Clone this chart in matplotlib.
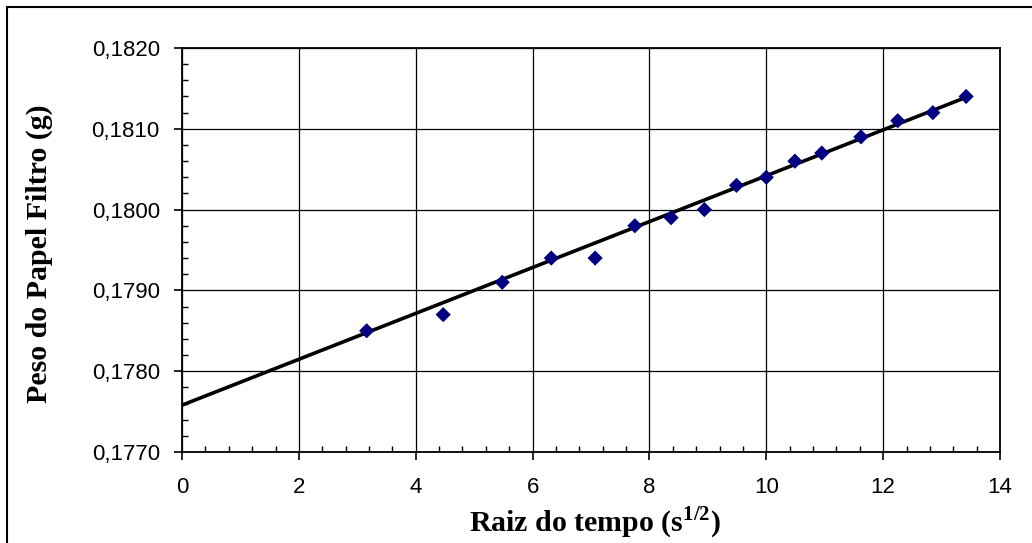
import matplotlib
matplotlib.use("Agg")
import matplotlib.pyplot as plt
from matplotlib.ticker import MultipleLocator, FuncFormatter
from matplotlib.patches import Rectangle

# raiz do tempo (s^1/2) and peso do papel filtro (g)
raiz_tempo = [3.16, 4.47, 5.48, 6.32, 7.07, 7.75, 8.37, 8.94, 9.49, 10.00,
              10.49, 10.95, 11.62, 12.25, 12.85, 13.42]
peso = [0.1785, 0.1787, 0.1791, 0.1794, 0.1794, 0.1798, 0.1799, 0.1800, 0.1803,
        0.1804, 0.1806, 0.1807, 0.1809, 0.1811, 0.1812, 0.1814]

# linear trendline end points
trend_x = [0.0, 13.42]
trend_y = [0.17758, 0.18139]

plt.rcParams["mathtext.fontset"] = "custom"
plt.rcParams["mathtext.bf"] = "Liberation Serif:bold"
plt.rcParams["mathtext.rm"] = "Liberation Serif:bold"

fig = plt.figure(figsize=(10.32, 5.43), dpi=100)
ax = fig.add_axes([0.1764, 0.1676, 0.7926, 0.744])

ax.plot(trend_x, trend_y, color="black", lw=2.6, zorder=3)
ax.scatter(raiz_tempo, peso, marker="D", s=60, color="#000080", zorder=4,
           edgecolors="none")

ax.set_xlim(0, 14)
ax.set_ylim(0.1770, 0.1820)
ax.xaxis.set_major_locator(MultipleLocator(2))
ax.xaxis.set_minor_locator(MultipleLocator(0.4))
ax.yaxis.set_major_locator(MultipleLocator(0.001))
ax.yaxis.set_minor_locator(MultipleLocator(0.0002))
ax.yaxis.set_major_formatter(FuncFormatter(lambda v, p: f"{v:.4f}".replace(".", ",")))
ax.xaxis.set_major_formatter(FuncFormatter(lambda v, p: f"{v:.0f}"))

ax.grid(True, which="major", color="black", lw=0.9)
for s in ax.spines.values():
    s.set_color("black")
    s.set_linewidth(1.3)

ax.tick_params(which="major", direction="out", length=6, width=1.2,
               labelsize=16, colors="black", labelfontfamily="Liberation Sans")
ax.tick_params(axis="y", which="major", pad=10)
ax.tick_params(axis="x", which="major", pad=12)
ax.tick_params(which="minor", direction="in", length=4.5, width=1.0)

ax.set_xlabel(r"Raiz do tempo (s$^{1/2}$)", fontsize=21.5, fontweight="bold",
              family="Liberation Serif")
ax.set_ylabel("Peso do Papel Filtro (g)", fontsize=21.5, fontweight="bold",
              family="Liberation Serif")
ax.xaxis.set_label_coords(0.505, -0.13)
ax.yaxis.set_label_coords(-0.158, 0.49)

# outer chart frame
fig.patches.append(Rectangle((7 / 1032, -0.1), 1.2, 1.1 - 7 / 543,
                             transform=fig.transFigure, fill=False,
                             edgecolor="black", lw=1.5))

fig.savefig("out.png", dpi=100)
